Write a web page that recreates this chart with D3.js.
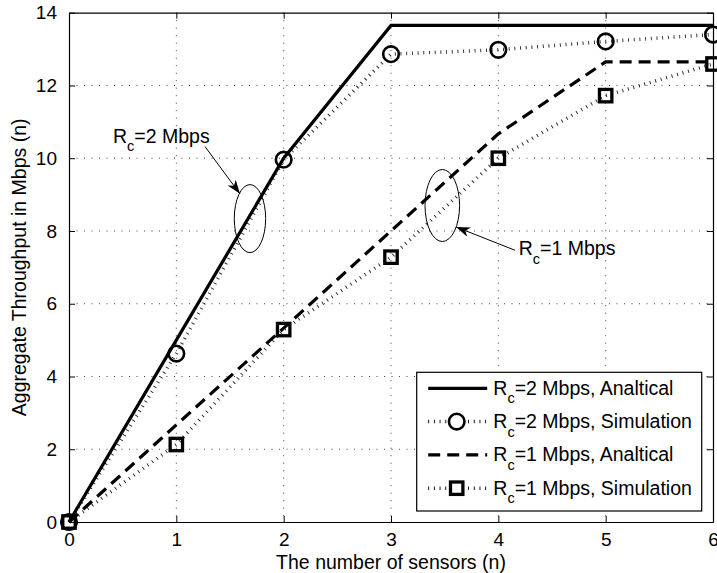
<!DOCTYPE html>
<html>
<head>
<meta charset="utf-8">
<script src="https://cdn.jsdelivr.net/npm/d3@7"></script>
<style>
  body { margin: 0; background: #fff; }
  svg text { font-family: "Liberation Sans", Arial, Helvetica, sans-serif; fill: #000; }
</style>
</head>
<body>
<div id="chart"></div>
<script>
// chart values
var sensors = [0, 1, 2, 3, 4, 5, 6];
var rc2Analytical = [0, 5, 10, 13.65, 13.65, 13.65, 13.65];
var rc2Simulation = [0, 4.63, 9.96, 12.86, 12.98, 13.21, 13.40];
var rc1Analytical = [0, 2.67, 5.33, 8.0, 10.67, 12.65, 12.65];
var rc1Simulation = [0, 2.13, 5.29, 7.28, 10.0, 11.72, 12.59];
var xTicks = [0, 1, 2, 3, 4, 5, 6];
var yTicks = [0, 2, 4, 6, 8, 10, 12, 14];
var legendLabels = ['=2 Mbps, Analtical', '=2 Mbps, Simulation', '=1 Mbps, Analtical', '=1 Mbps, Simulation'];

var width = 717, height = 573;
var margin = {top: 12.7, right: 4, bottom: 51, left: 69};
var innerW = width - margin.left - margin.right,
    innerH = height - margin.top - margin.bottom;
var fontSize = '19.5px';

var svg = d3.select('#chart').append('svg')
    .attr('width', width)
    .attr('height', height);

var g = svg.append('g')
    .attr('transform', 'translate(' + margin.left + ',' + margin.top + ')');

var x = d3.scaleLinear().domain([0, 6]).range([0, innerW]);
var y = d3.scaleLinear().domain([0, 14]).range([innerH, 0]);

// grid
g.selectAll('.vgrid').data(xTicks.slice(1, -1)).enter().append('line')
    .attr('x1', function(d) { return x(d); }).attr('x2', function(d) { return x(d); })
    .attr('y1', 0).attr('y2', innerH)
    .attr('stroke', '#444').attr('stroke-width', 1).attr('stroke-dasharray', '1,6.5');
g.selectAll('.hgrid').data(yTicks.slice(1, -1)).enter().append('line')
    .attr('y1', function(d) { return y(d); }).attr('y2', function(d) { return y(d); })
    .attr('x1', 0).attr('x2', innerW)
    .attr('stroke', '#444').attr('stroke-width', 1).attr('stroke-dasharray', '1,6.5');

// axes, ticks pointing inward like matlab
var fmt = d3.format('d');
var xAxis = g.append('g').attr('transform', 'translate(0,' + innerH + ')')
    .call(d3.axisBottom(x).tickValues(xTicks).tickFormat(fmt).tickSizeInner(-6).tickSizeOuter(0).tickPadding(11));
var xTop = g.append('g')
    .call(d3.axisTop(x).tickValues(xTicks).tickSizeInner(-6).tickSizeOuter(0).tickFormat(''));
var yAxis = g.append('g')
    .call(d3.axisLeft(y).tickValues(yTicks).tickFormat(fmt).tickSizeInner(-6).tickSizeOuter(0).tickPadding(12));
var yRight = g.append('g').attr('transform', 'translate(' + innerW + ',0)')
    .call(d3.axisRight(y).tickValues(yTicks).tickSizeInner(-6).tickSizeOuter(0).tickFormat(''));

[xAxis, xTop, yAxis, yRight].forEach(function(a) {
    a.selectAll('path').attr('stroke', '#000').attr('stroke-width', 1.2);
    a.selectAll('line').attr('stroke', '#000');
    a.selectAll('text').style('font-size', '19px').attr('fill', '#000');
});

svg.append('text')
    .attr('x', margin.left + innerW / 2).attr('y', 569)
    .attr('text-anchor', 'middle').style('font-size', fontSize)
    .text('The number of sensors (n)');

svg.append('text')
    .attr('transform', 'translate(26,' + (margin.top + innerH / 2) + ') rotate(-90)')
    .attr('text-anchor', 'middle').style('font-size', fontSize)
    .text('Aggregate Throughput in Mbps (n)');

// series
var line = d3.line()
    .x(function(d, i) { return x(sensors[i]); })
    .y(function(d) { return y(d); });

var plot = g.append('g');

plot.append('path').datum(rc2Simulation).attr('d', line)
    .attr('fill', 'none').attr('stroke', '#222').attr('stroke-width', 3.5)
    .attr('stroke-dasharray', '0.9,4.8');
plot.append('path').datum(rc1Simulation).attr('d', line)
    .attr('fill', 'none').attr('stroke', '#222').attr('stroke-width', 3.5)
    .attr('stroke-dasharray', '0.9,4.8');
plot.append('path').datum(rc2Analytical).attr('d', line)
    .attr('fill', 'none').attr('stroke', '#000').attr('stroke-width', 3.2);
plot.append('path').datum(rc1Analytical).attr('d', line)
    .attr('fill', 'none').attr('stroke', '#000').attr('stroke-width', 3.2)
    .attr('stroke-dasharray', '12,7');

plot.selectAll('.circ').data(rc2Simulation).enter().append('circle')
    .attr('cx', function(d, i) { return x(sensors[i]); })
    .attr('cy', function(d) { return y(d); })
    .attr('r', 7.8).attr('fill', 'none').attr('stroke', '#000').attr('stroke-width', 2.6);
plot.selectAll('.sq').data(rc1Simulation).enter().append('rect')
    .attr('x', function(d, i) { return x(sensors[i]) - 6.2; })
    .attr('y', function(d) { return y(d) - 6.2; })
    .attr('width', 12.4).attr('height', 12.4)
    .attr('fill', 'none').attr('stroke', '#000').attr('stroke-width', 3.3);

// annotations
function subLabel(sel, head, sub, rest) {
    sel.append('tspan').text(head);
    sel.append('tspan').text(sub).style('font-size', '14.5px').attr('dy', 8.5);
    sel.append('tspan').text(rest).attr('dy', -8.5);
}

var defs = svg.append('defs');
defs.append('marker').attr('id', 'arrow')
    .attr('viewBox', '0 0 14 10').attr('refX', 14).attr('refY', 5)
    .attr('markerWidth', 14).attr('markerHeight', 10).attr('markerUnits', 'userSpaceOnUse')
    .attr('orient', 'auto')
    .append('path').attr('d', 'M0,0 L14,5 L0,10 L4,5 Z').attr('fill', '#000');

var notes = [
    {text: '2 Mbps', tx: 0.41, ty: 10.43, ax0: 1.267, ay0: 10.32, ax1: 1.593, ay1: 9.02, ex: 1.686, ey: 8.34, rx: 15.7, ry: 34},
    {text: '1 Mbps', tx: 4.19, ty: 7.33, ax0: 4.155, ay0: 7.47, ax1: 3.606, ay1: 8.11, ex: 3.478, ey: 8.70, rx: 17.3, ry: 36}
];
notes.forEach(function(n) {
    g.append('ellipse')
        .attr('cx', x(n.ex)).attr('cy', y(n.ey)).attr('rx', n.rx).attr('ry', n.ry)
        .attr('fill', 'none').attr('stroke', '#000').attr('stroke-width', 1);
    g.append('line')
        .attr('x1', x(n.ax0)).attr('y1', y(n.ay0)).attr('x2', x(n.ax1)).attr('y2', y(n.ay1))
        .attr('stroke', '#000').attr('stroke-width', 1).attr('marker-end', 'url(#arrow)');
    var t = g.append('text').attr('x', x(n.tx)).attr('y', y(n.ty)).style('font-size', fontSize);
    subLabel(t, 'R', 'c', '=' + n.text);
});

// legend
var lg = svg.append('g').attr('transform', 'translate(416.7,372.3)');
lg.append('rect').attr('width', 285).attr('height', 138.7)
    .attr('fill', '#fff').attr('stroke', '#000').attr('stroke-width', 1.2);

var styles = [
    {dash: null, w: 3.2, marker: null},
    {dash: '0.9,4.8', w: 3.5, marker: 'circle'},
    {dash: '12,7', w: 3.2, marker: null},
    {dash: '0.9,4.8', w: 3.5, marker: 'square'}
];
legendLabels.forEach(function(lbl, i) {
    var cy = 16 + i * 33.3;
    var s = styles[i];
    var row = lg.append('g').attr('transform', 'translate(0,' + cy + ')');
    row.append('line').attr('x1', 11.5).attr('x2', 70.5).attr('y1', 0).attr('y2', 0)
        .attr('stroke', '#000').attr('stroke-width', s.w)
        .attr('stroke-dasharray', s.dash);
    if (s.marker === 'circle') {
        row.append('circle').attr('cx', 40).attr('cy', 0).attr('r', 7.8)
            .attr('fill', '#fff').attr('stroke', '#000').attr('stroke-width', 2.6);
    } else if (s.marker === 'square') {
        row.append('rect').attr('x', 33.8).attr('y', -6.2).attr('width', 12.4).attr('height', 12.4)
            .attr('fill', '#fff').attr('stroke', '#000').attr('stroke-width', 3.3);
    }
    var t = row.append('text').attr('x', 76.6).attr('y', 6.5).style('font-size', fontSize);
    subLabel(t, 'R', 'c', lbl);
});
</script>
</body>
</html>
